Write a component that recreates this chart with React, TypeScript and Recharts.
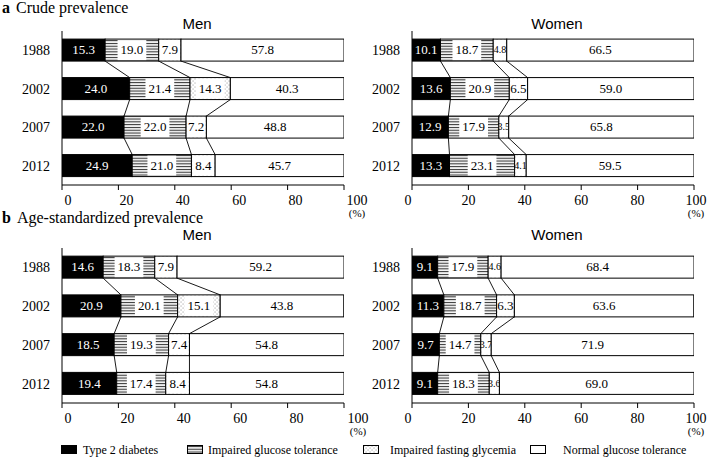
import React from 'react';
import { ComposedChart, Bar, XAxis, YAxis } from 'recharts';

const years = ['1988', '2002', '2007', '2012'];
const xTicks = [0, 20, 40, 60, 80, 100];

const crudeMenT2D = [15.3, 24.0, 22.0, 24.9];
const crudeMenIGT = [19.0, 21.4, 22.0, 21.0];
const crudeMenIFG = [7.9, 14.3, 7.2, 8.4];
const crudeMenNGT = [57.8, 40.3, 48.8, 45.7];

const crudeWomenT2D = [10.1, 13.6, 12.9, 13.3];
const crudeWomenIGT = [18.7, 20.9, 17.9, 23.1];
const crudeWomenIFG = [4.8, 6.5, 3.5, 4.1];
const crudeWomenNGT = [66.5, 59.0, 65.8, 59.5];

const ageMenT2D = [14.6, 20.9, 18.5, 19.4];
const ageMenIGT = [18.3, 20.1, 19.3, 17.4];
const ageMenIFG = [7.9, 15.1, 7.4, 8.4];
const ageMenNGT = [59.2, 43.8, 54.8, 54.8];

const ageWomenT2D = [9.1, 11.3, 9.7, 9.1];
const ageWomenIGT = [17.9, 18.7, 14.7, 18.3];
const ageWomenIFG = [4.6, 6.3, 3.7, 3.6];
const ageWomenNGT = [68.4, 63.6, 71.9, 69.0];

const seriesKeys = ['t2d', 'igt', 'ifg', 'ngt'];
const seriesNames = [
  'Type 2 diabetes',
  'Impaired glucose tolerance',
  'Impaired fasting glycemia',
  'Normal glucose tolerance',
];

const SERIF = "'Liberation Serif', 'Times New Roman', serif";
const SANS = "'Liberation Sans', Arial, sans-serif";

const fills: Record<string, string> = {
  t2d: '#000',
  igt: 'url(#stripes)',
  ifg: 'url(#dots)',
  ngt: '#fff',
};

const edgeStore: Record<string, { right: number; bottom: number }[]> = {};

function textWidth(s: string, fs: number) {
  let w = 0;
  for (const c of s) w += c === '.' ? 0.25 : 0.5;
  return w * fs;
}

function makeShape(panel: string, key: string) {
  return (props: any) => {
    const { x, y, width, height, payload } = props;
    if (x == null || y == null || !payload) return <g />;
    const idx = years.indexOf(payload.year);
    const v = payload[key] as number;
    const id = panel + key;
    if (!edgeStore[id]) edgeStore[id] = [];
    const prev = idx > 0 ? edgeStore[id][idx - 1] : undefined;
    edgeStore[id][idx] = { right: x + width, bottom: y + height };
    const label = v.toFixed(1);
    let fs = 13;
    const tw0 = textWidth(label, fs);
    if (tw0 > width - 1) fs = Math.max(10, (13 * (width - 1)) / tw0);
    const tw = textWidth(label, fs);
    const boxed = key === 'igt' || key === 'ifg';
    const bw = Math.max(0, Math.min(tw + 6, width - 2));
    const cx = x + width / 2;
    const cy = y + height / 2;
    return (
      <g>
        <rect x={x} y={y} width={width} height={height} fill={fills[key]} stroke="#000" strokeWidth={1} />
        {boxed && (
          <rect x={cx - bw / 2} y={y + 1} width={bw} height={Math.max(0, height - 2)} fill="#fff" />
        )}
        <text
          x={cx}
          y={cy}
          dy="0.33em"
          textAnchor="middle"
          fontSize={fs}
          fontFamily={SERIF}
          fill={key === 't2d' ? '#fff' : '#000'}
        >
          {label}
        </text>
        {prev && key !== 'ngt' && (
          <line x1={prev.right} y1={prev.bottom} x2={x + width} y2={y} stroke="#000" strokeWidth={0.9} />
        )}
      </g>
    );
  };
}

function XTick(props: any) {
  const { x, y, payload, shift } = props;
  const v = payload.value as number;
  const dx = shift(v);
  return (
    <g>
      <text x={x + dx} y={y} dy="0.71em" textAnchor="middle" fontSize={14} fontFamily={SERIF} fill="#000">
        {v}
      </text>
      {v === 100 && (
        <text x={x + dx} y={y + 22} textAnchor="middle" fontSize={11} fontFamily={SERIF} fill="#000">
          (%)
        </text>
      )}
    </g>
  );
}

type PanelProps = {
  id: string;
  t2d: number[];
  igt: number[];
  ifg: number[];
  ngt: number[];
  left: number;
  top: number;
  width: number;
  height: number;
  marginRight: number;
  shift: (v: number) => number;
};

function Panel(p: PanelProps) {
  const data = years.map((year, i) => ({
    year,
    t2d: p.t2d[i],
    igt: p.igt[i],
    ifg: p.ifg[i],
    ngt: p.ngt[i],
  }));
  return (
    <div style={{ position: 'absolute', left: p.left, top: p.top }}>
      <ComposedChart
        layout="vertical"
        width={p.width}
        height={p.height}
        data={data}
        margin={{ top: 31, right: p.marginRight, bottom: 0, left: 0 }}
        barCategoryGap="21%"
      >
        <XAxis
          type="number"
          domain={[0, 100]}
          ticks={xTicks}
          allowDataOverflow
          interval={0}
          height={37}
          tickSize={5}
          tickMargin={5}
          stroke="#000"
          tick={<XTick shift={p.shift} />}
        />
        <YAxis
          type="category"
          dataKey="year"
          width={62}
          tickLine={false}
          tickMargin={6}
          stroke="#000"
          tick={{ fill: '#000', fontSize: 14, fontFamily: SERIF }}
        />
        {seriesKeys.map((k) => (
          <Bar key={k} dataKey={k} stackId="s" isAnimationActive={false} shape={makeShape(p.id, k)} />
        ))}
      </ComposedChart>
    </div>
  );
}

const menAShift = (v: number) => (v === 0 ? 6 : v === 100 ? 13 : 8);
const menBShift = (v: number) => (v === 0 ? 6 : v === 100 ? 14 : 9);
const womenShift = (v: number) => (v === 0 ? -4 : v === 100 ? 2 : 0);

function LegendIcon({ fill }: { fill: string }) {
  return <rect x={0.5} y={0.5} width={15} height={8} fill={fill} stroke="#000" strokeWidth={1} />;
}

const legendX = [61, 187, 363, 530];
const legendTextX = [83, 208, 390, 563];

export default function App() {
  return (
    <div
      style={{
        position: 'absolute',
        left: 0,
        top: 0,
        width: 709,
        height: 458,
        background: '#fff',
        overflow: 'hidden',
      }}
    >
      <svg width={0} height={0} style={{ position: 'absolute' }}>
        <defs>
          <pattern id="stripes" patternUnits="userSpaceOnUse" width={4} height={2.8}>
            <rect width={4} height={2.8} fill="#fff" />
            <rect y={0.9} width={4} height={1.1} fill="#333" />
          </pattern>
          <pattern id="dots" patternUnits="userSpaceOnUse" width={4} height={4}>
            <rect width={4} height={4} fill="#fff" />
            <rect x={0.6} y={0.6} width={0.9} height={0.9} fill="#777" />
            <rect x={2.6} y={2.6} width={0.9} height={0.9} fill="#777" />
          </pattern>
        </defs>
      </svg>

      <Panel id="am" t2d={crudeMenT2D} igt={crudeMenIGT} ifg={crudeMenIFG} ngt={crudeMenNGT}
        left={0} top={0} width={380} height={222} marginRight={36} shift={menAShift} />
      <Panel id="aw" t2d={crudeWomenT2D} igt={crudeWomenIGT} ifg={crudeWomenIFG} ngt={crudeWomenNGT}
        left={350} top={0} width={359} height={222} marginRight={15} shift={womenShift} />
      <Panel id="bm" t2d={ageMenT2D} igt={ageMenIGT} ifg={ageMenIFG} ngt={ageMenNGT}
        left={0} top={217} width={380} height={223} marginRight={36} shift={menBShift} />
      <Panel id="bw" t2d={ageWomenT2D} igt={ageWomenIGT} ifg={ageWomenIFG} ngt={ageWomenNGT}
        left={350} top={217} width={359} height={223} marginRight={15} shift={womenShift} />

      <div style={{ position: 'absolute', left: 2, top: 0, fontFamily: SERIF, fontSize: 16, lineHeight: '16px', whiteSpace: 'nowrap', color: '#000' }}>
        <b>a</b><span style={{ marginLeft: 6 }}>Crude prevalence</span>
      </div>
      <div style={{ position: 'absolute', left: 2, top: 210, fontFamily: SERIF, fontSize: 16, lineHeight: '16px', whiteSpace: 'nowrap', color: '#000' }}>
        <b>b</b><span style={{ marginLeft: 6 }}>Age-standardized prevalence</span>
      </div>

      {[
        { t: 'Men', cx: 197, top: 16 },
        { t: 'Women', cx: 557, top: 16 },
        { t: 'Men', cx: 197, top: 227 },
        { t: 'Women', cx: 557, top: 227 },
      ].map((h, i) => (
        <div key={i} style={{ position: 'absolute', left: h.cx - 50, width: 100, top: h.top, textAlign: 'center', fontFamily: SANS, fontSize: 15, lineHeight: '15px', color: '#000' }}>
          {h.t}
        </div>
      ))}

      <svg width={709} height={18} style={{ position: 'absolute', left: 0, top: 440 }}>
        {seriesKeys.map((k, i) => (
          <g key={k}>
            <g transform={`translate(${legendX[i]},5)`}>
              <LegendIcon fill={fills[k]} />
            </g>
            <text x={legendTextX[i]} y={14} fontSize={12} fontFamily={SERIF} fill="#000">
              {seriesNames[i]}
            </text>
          </g>
        ))}
      </svg>
    </div>
  );
}
